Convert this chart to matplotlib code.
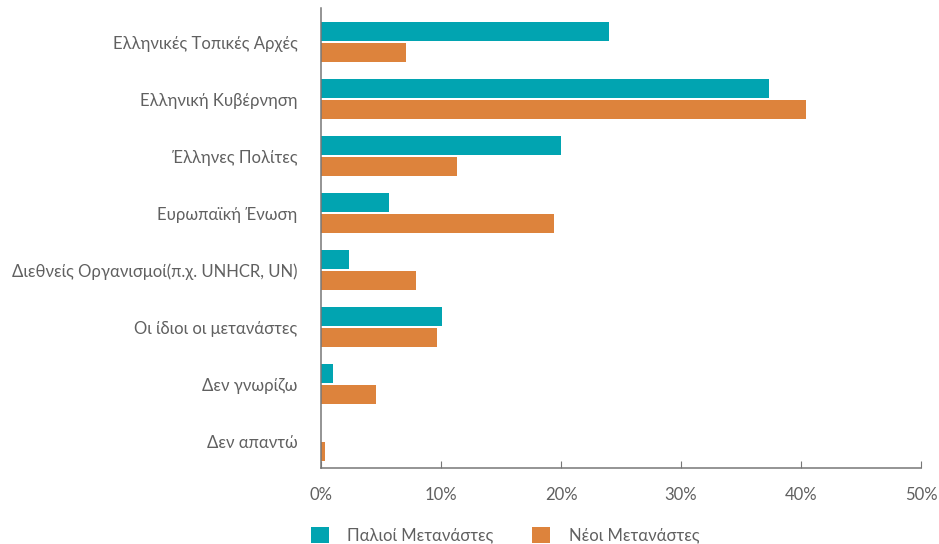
import numpy as np
import matplotlib
matplotlib.use("Agg")
import matplotlib.pyplot as plt
from matplotlib.ticker import PercentFormatter

# ============================================================
# Data
# ============================================================

categories = [
    "Ελληνικές Τοπικές Αρχές",
    "Ελληνική Κυβέρνηση",
    "Έλληνες Πολίτες",
    "Ευρωπαϊκή Ένωση",
    "Διεθνείς Οργανισμοί(π.χ. UNHCR, UN)",
    "Οι ίδιοι οι μετανάστες",
    "Δεν γνωρίζω",
    "Δεν απαντώ",
]
old_migrants = [24.0, 37.3, 20.0, 5.7, 2.3, 10.1, 1.0, 0.0]
new_migrants = [7.1, 40.4, 11.3, 19.4, 7.9, 9.7, 4.6, 0.3]
series_labels = ["Παλιοί Μετανάστες", "Νέοι Μετανάστες"]

TEAL = "#01A4B1"
ORANGE = "#DD833C"
TEXT = "#606060"

# ============================================================
# Plot
# ============================================================

plt.rcParams["font.family"] = ["Lato", "DejaVu Sans"]

fig = plt.figure(figsize=(9.39, 5.44), dpi=100)
ax = fig.add_axes([321 / 939, 1 - 468 / 544, 600 / 939, 460 / 544])

y = np.arange(len(categories))
h = 0.333
off = 0.184

ax.barh(y - off, old_migrants, height=h, color=TEAL, label=series_labels[0])
ax.barh(y + off, new_migrants, height=h, color=ORANGE, label=series_labels[1])

ax.set_xlim(0, 50)
ax.set_ylim(len(categories) - 1 + 0.47, -0.6)
ax.set_yticks(y)
ax.set_yticklabels(categories, fontsize=12, color=TEXT)
ax.tick_params(axis="y", length=0, pad=17)

ax.set_xticks(np.arange(0, 51, 10))
ax.xaxis.set_major_formatter(PercentFormatter(decimals=0))
ax.tick_params(axis="x", direction="in", length=5, color="#777777",
               labelsize=12, labelcolor=TEXT, pad=14)

for s in ["top", "right"]:
    ax.spines[s].set_visible(False)
for s in ["left", "bottom"]:
    ax.spines[s].set_color("#777777")
    ax.spines[s].set_linewidth(1.1)

leg = fig.legend(loc="center", bbox_to_anchor=(505 / 939, 1 - 535 / 544),
                 ncol=2, frameon=False, fontsize=12, handlelength=1.1,
                 handleheight=1.1, handletextpad=1.1, columnspacing=2.3)
for t in leg.get_texts():
    t.set_color(TEXT)

fig.savefig("out.png", dpi=100)
